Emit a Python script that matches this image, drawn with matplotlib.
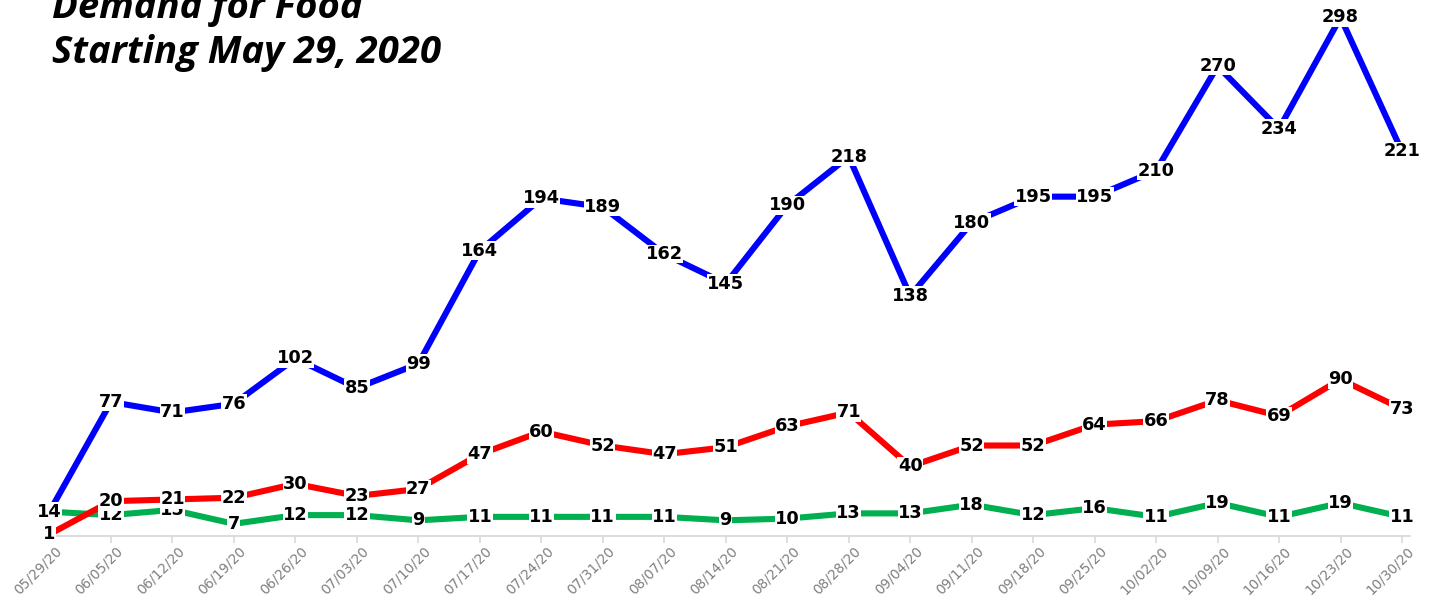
import matplotlib
matplotlib.use("Agg")
import matplotlib.pyplot as plt
import matplotlib.transforms as mtransforms

dates = ["05/29/20", "06/05/20", "06/12/20", "06/19/20", "06/26/20", "07/03/20",
         "07/10/20", "07/17/20", "07/24/20", "07/31/20", "08/07/20", "08/14/20",
         "08/21/20", "08/28/20", "09/04/20", "09/11/20", "09/18/20", "09/25/20",
         "10/02/20", "10/09/20", "10/16/20", "10/23/20", "10/30/20"]
blue_vals = [14, 77, 71, 76, 102, 85, 99, 164, 194, 189, 162, 145, 190, 218,
             138, 180, 195, 195, 210, 270, 234, 298, 221]
red_vals = [1, 20, 21, 22, 30, 23, 27, 47, 60, 52, 47, 51, 63, 71,
            40, 52, 52, 64, 66, 78, 69, 90, 73]
green_vals = [14, 12, 15, 7, 12, 12, 9, 11, 11, 11, 11, 9, 10, 13,
              13, 18, 12, 16, 11, 19, 11, 19, 11]

W, H = 1442, 602
fig = plt.figure(figsize=(W / 100, H / 100), dpi=100)
ax = fig.add_axes([49.5 / W, (H - 536) / H, 1360.5 / W, 536 / H])

x = list(range(len(dates)))
series = [(green_vals, "#00B050"), (red_vals, "#FF0000"), (blue_vals, "#0000FF")]
for vals, col in series:
    ax.plot(x, vals, color=col, lw=4.4, solid_capstyle="butt", zorder=2, clip_on=False)

# data labels sit on the points, white boxes hide the line under them
for vals, col in series:
    for i, v in enumerate(vals):
        ax.text(i, v, str(v), ha="center", va="center", fontsize=12.8,
                fontweight="bold", color="black", zorder=5,
                bbox=dict(facecolor="white", edgecolor="none", pad=0.2))

ax.set_xlim(0, 22.13)
ax.set_ylim(0, 308)
for s in ["top", "right", "left"]:
    ax.spines[s].set_visible(False)
ax.spines["bottom"].set_color("#d9d9d9")
ax.spines["bottom"].set_linewidth(1.3)
ax.set_yticks([])
ax.set_xticks(x)
ax.set_xticklabels(dates, rotation=45, ha="right", rotation_mode="anchor",
                   fontsize=9.8, color="#7f7f7f")
ax.tick_params(axis="x", length=5, color="#d9d9d9", width=1.2, pad=1)
off = mtransforms.ScaledTranslation(5 / 100, 0, fig.dpi_scale_trans)
for lab in ax.get_xticklabels():
    lab.set_transform(lab.get_transform() + off)

fig.text(52 / W, (H - 18) / H, "Demand for Food", fontsize=27.5, fontweight="bold",
         style="italic", family="Open Sans", va="baseline", ha="left")
fig.text(52 / W, (H - 63) / H, "Starting May 29, 2020", fontsize=27.5, fontweight="bold",
         style="italic", family="Open Sans", va="baseline", ha="left")

fig.savefig("out.png", dpi=100)
